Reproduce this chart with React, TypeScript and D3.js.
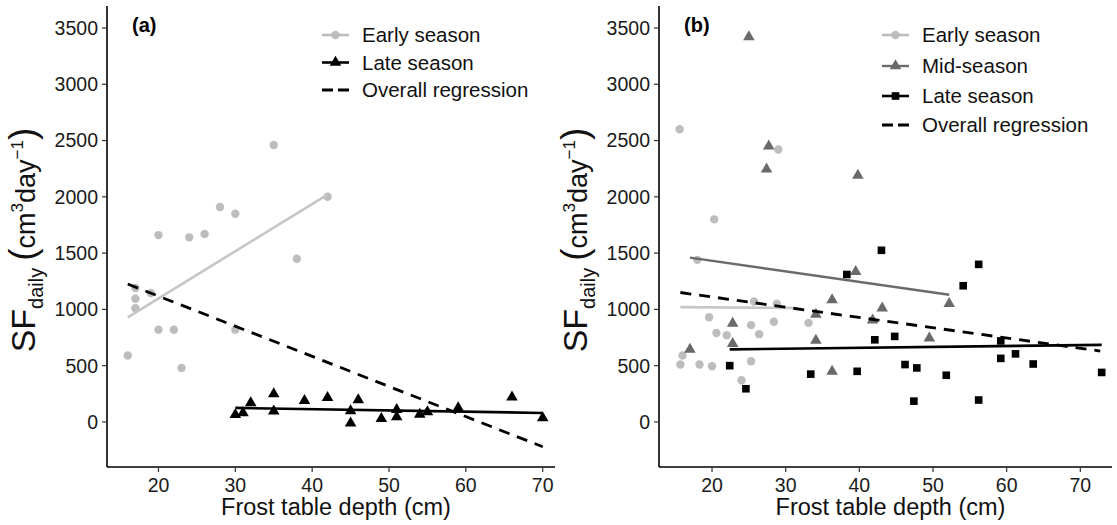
import React from "react";
import * as d3 from "d3";

// ---------- data ----------
const yTicks = [0, 500, 1000, 1500, 2000, 2500, 3000, 3500];
const xTicks = [20, 30, 40, 50, 60, 70];

// Panel (a)
const earlyA: [number, number][] = [
  [16, 590], [17, 1190], [17, 1095], [17, 1010], [19, 1145], [20, 1660], [20, 820],
  [22, 820], [23, 480], [24, 1640], [26, 1670], [28, 1910], [30, 1850], [30, 820],
  [35, 2460], [38, 1450], [42, 2000],
];
const lateA: [number, number][] = [
  [30, 65], [31, 80], [32, 170], [35, 250], [35, 95], [39, 190], [42, 215], [45, 98],
  [45, -10], [46, 195], [49, 30], [51, 110], [51, 45], [54, 68], [55, 90], [59, 125],
  [66, 220], [70, 35],
];
const earlyFitA: [number, number][] = [[16, 930], [42, 2020]];
const lateFitA: [number, number][] = [[30, 125], [70, 80]];
const overallFitA: [number, number][] = [[16, 1225], [70, -220]];

// Panel (b)
const earlyB: [number, number][] = [
  [15.6, 2600], [29, 2420], [20.3, 1800], [18, 1440], [15.7, 510], [16, 590], [18.3, 510],
  [20, 495], [19.6, 930], [20.6, 790], [22, 770], [25.7, 1070], [25.3, 860], [26.4, 780],
  [25.3, 540], [24, 370], [28.4, 890], [28.8, 1050], [33.1, 880],
];
const midB: [number, number][] = [
  [25, 3420], [27.7, 2450], [27.4, 2245], [39.8, 2190], [17, 645], [22.8, 875], [22.8, 695],
  [39.5, 1335], [36.3, 1085], [34.1, 955], [34.1, 725], [36.3, 450], [43.1, 1010],
  [41.8, 905], [49.5, 745], [52.2, 1050],
];
const lateB: [number, number][] = [
  [22.4, 500], [24.6, 295], [43, 1525], [38.3, 1310], [56.2, 1400], [54.1, 1210],
  [42.1, 730], [44.8, 760], [59.2, 720], [59.2, 565], [61.2, 605], [63.6, 515],
  [33.4, 425], [39.7, 450], [46.2, 510], [47.8, 480], [51.8, 415], [47.4, 185],
  [56.2, 195], [72.9, 440],
];
const earlyFitB: [number, number][] = [[15.7, 1020], [31, 1012]];
const midFitB: [number, number][] = [[17, 1460], [52.2, 1130]];
const lateFitB: [number, number][] = [[22.4, 645], [72.9, 685]];
const overallFitB: [number, number][] = [[15.7, 1150], [72.7, 630]];

const legendA = ["Early season", "Late season", "Overall regression"];
const legendB = ["Early season", "Mid-season", "Late season", "Overall regression"];

// ---------- styling ----------
const FONT = "'Liberation Sans', Arial, Helvetica, sans-serif";
const C_EARLY = "#bdbdbd";
const C_EARLY_LINE = "#c6c6c6";
const C_MID = "#6a6a6a";
const C_LATE = "#000000";

const TOP = 6;
const BOTTOM = 467;
const yScale = d3.scaleLinear().domain([-400, 3695]).range([BOTTOM, TOP]);

type Shape = "circle" | "triangle" | "square" | "none";

function Marker({ x, y, shape, color }: { x: number; y: number; shape: Shape; color: string }) {
  if (shape === "circle") return <circle cx={x} cy={y} r={4.2} fill={color} />;
  if (shape === "none") return null;
  const sym = d3
    .symbol()
    .type(shape === "triangle" ? d3.symbolTriangle : d3.symbolSquare)
    .size(58)();
  return <path d={sym || ""} transform={`translate(${x},${y})`} fill={color} />;
}

interface Series {
  pts: [number, number][];
  shape: Shape;
  color: string;
}
interface Fit {
  pts: [number, number][];
  color: string;
  width: number;
  dash?: string;
}
interface LegendItem {
  label: string;
  shape: Shape;
  color: string;
  width: number;
  dash?: string;
}

function Panel(props: {
  left: number;
  right: number;
  xDomain: [number, number];
  tag: string;
  series: Series[];
  fits: Fit[];
  legend: LegendItem[];
  legendX: number;
  legendY: number[];
}) {
  const { left, right, xDomain, tag, series, fits, legend, legendX, legendY } = props;
  const x = d3.scaleLinear().domain(xDomain).range([left, right]);
  const line = d3
    .line<[number, number]>()
    .x((d) => x(d[0]))
    .y((d) => yScale(d[1]));
  const labelCY = 240;
  const labelX = left - 72;
  return (
    <g fontFamily={FONT}>
      {/* y axis */}
      <line x1={left} x2={left} y1={TOP} y2={BOTTOM} stroke="#000" strokeWidth={1.6} />
      {yTicks.map((t) => (
        <g key={"y" + t}>
          <line x1={left - 5} x2={left} y1={yScale(t)} y2={yScale(t)} stroke="#333" strokeWidth={1.2} />
          <text x={left - 9} y={yScale(t)} dy="0.35em" textAnchor="end" fontSize={19.5} fill="#1a1a1a">
            {t}
          </text>
        </g>
      ))}
      {/* x axis */}
      <line x1={left} x2={right} y1={BOTTOM} y2={BOTTOM} stroke="#000" strokeWidth={1.6} />
      {xTicks.map((t) => (
        <g key={"x" + t}>
          <line x1={x(t)} x2={x(t)} y1={BOTTOM} y2={BOTTOM + 5} stroke="#333" strokeWidth={1.2} />
          <text x={x(t)} y={BOTTOM + 25} textAnchor="middle" fontSize={19.5} fill="#1a1a1a">
            {t}
          </text>
        </g>
      ))}
      <text x={(left + right) / 2 + 5} y={BOTTOM + 48} textAnchor="middle" fontSize={23.5} fill="#111">
        Frost table depth (cm)
      </text>
      {/* y title */}
      <text transform={`translate(${labelX},${labelCY}) rotate(-90)`} textAnchor="middle" fill="#111">
        <tspan fontSize={34}>SF</tspan>
        <tspan fontSize={20} dy={8}>daily</tspan>
        <tspan fontSize={37} dy={-8} dx={7}>(</tspan>
        <tspan fontSize={27}>cm</tspan>
        <tspan fontSize={17} dy={-12}>3</tspan>
        <tspan fontSize={27} dy={12}>day</tspan>
        <tspan fontSize={17} dy={-12}>−1</tspan>
        <tspan fontSize={37} dy={12}>)</tspan>
      </text>
      {/* tag */}
      <text x={left + 25} y={32} fontSize={20} fontWeight="bold" fill="#000">
        {tag}
      </text>
      {/* points */}
      {series.map((s, i) => (
        <g key={"s" + i}>
          {s.pts.map((p, j) => (
            <Marker key={j} x={x(p[0])} y={yScale(p[1])} shape={s.shape} color={s.color} />
          ))}
        </g>
      ))}
      {/* fitted lines */}
      {fits.map((f, i) => (
        <path
          key={"f" + i}
          d={line(f.pts) || ""}
          fill="none"
          stroke={f.color}
          strokeWidth={f.width}
          strokeDasharray={f.dash}
        />
      ))}
      {/* legend */}
      {legend.map((l, i) => (
        <g key={"l" + i}>
          <line
            x1={legendX}
            x2={legendX + 27}
            y1={legendY[i]}
            y2={legendY[i]}
            stroke={l.color}
            strokeWidth={l.width}
            strokeDasharray={l.dash ? "11,5" : undefined}
          />
          <Marker x={legendX + 13.5} y={legendY[i]} shape={l.shape} color={l.color} />
          <text x={legendX + 40} y={legendY[i]} dy="0.35em" fontSize={20.5} fill="#111">
            {l.label}
          </text>
        </g>
      ))}
    </g>
  );
}

export default function App() {
  return (
    <svg width={1117} height={525} style={{ display: "block", position: "absolute", left: 0, top: 0 }}>
      <rect width={1117} height={525} fill="#fff" />
      <Panel
        left={107}
        right={555}
        xDomain={[13.3, 71.6]}
        tag="(a)"
        series={[
          { pts: earlyA, shape: "circle", color: C_EARLY },
          { pts: lateA, shape: "triangle", color: C_LATE },
        ]}
        fits={[
          { pts: earlyFitA, color: C_EARLY_LINE, width: 2.6 },
          { pts: lateFitA, color: C_LATE, width: 2.6 },
          { pts: overallFitA, color: C_LATE, width: 2.8, dash: "11,8" },
        ]}
        legend={[
          { label: legendA[0], shape: "circle", color: C_EARLY, width: 2.6 },
          { label: legendA[1], shape: "triangle", color: C_LATE, width: 2.6 },
          { label: legendA[2], shape: "none", color: C_LATE, width: 2.8, dash: "y" },
        ]}
        legendX={322}
        legendY={[35, 62.5, 90]}
      />
      <Panel
        left={659}
        right={1112}
        xDomain={[12.8, 74.3]}
        tag="(b)"
        series={[
          { pts: earlyB, shape: "circle", color: C_EARLY },
          { pts: midB, shape: "triangle", color: C_MID },
          { pts: lateB, shape: "square", color: C_LATE },
        ]}
        fits={[
          { pts: earlyFitB, color: C_EARLY_LINE, width: 2.6 },
          { pts: midFitB, color: C_MID, width: 2.4 },
          { pts: lateFitB, color: C_LATE, width: 2.6 },
          { pts: overallFitB, color: C_LATE, width: 2.8, dash: "11,8" },
        ]}
        legend={[
          { label: legendB[0], shape: "circle", color: C_EARLY, width: 2.6 },
          { label: legendB[1], shape: "triangle", color: C_MID, width: 2.4 },
          { label: legendB[2], shape: "square", color: C_LATE, width: 2.6 },
          { label: legendB[3], shape: "none", color: C_LATE, width: 2.8, dash: "y" },
        ]}
        legendX={882}
        legendY={[35, 66, 96, 125]}
      />
    </svg>
  );
}
